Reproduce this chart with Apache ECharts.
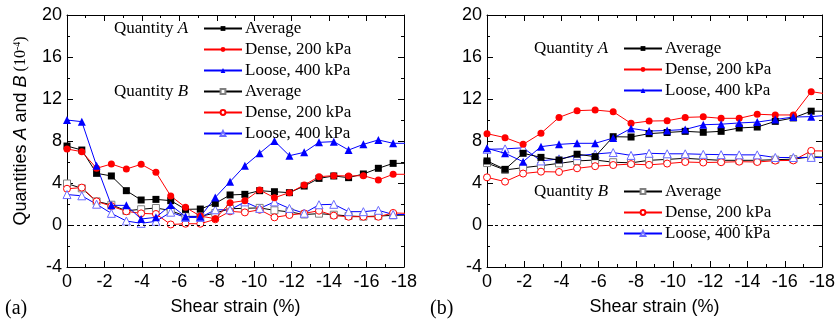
<!DOCTYPE html>
<html>
<head>
<meta charset="utf-8">
<script src="https://cdn.jsdelivr.net/npm/echarts@6/dist/echarts.min.js"></script>
<style>
  body { margin: 0; background: #fff; }
  #chart0 { position: absolute; left: 0; top: 0; width: 425px; height: 323px; }
  #chart1 { position: absolute; left: 425px; top: 0; width: 413px; height: 323px; }
</style>
</head>
<body>
<div id="chart0"></div>
<div id="chart1"></div>
<script>
// shear strain (%) of each reading; last one lies just past the axis end
var strainL = [0, -0.79, -1.58, -2.37, -3.17, -3.96, -4.75, -5.54, -6.33, -7.12, -7.92, -8.71, -9.5, -10.29, -11.08, -11.88, -12.67, -13.46, -14.25, -15.04, -15.83, -16.63, -17.42, -18.3];
var strainR = [0, -0.97, -1.94, -2.9, -3.87, -4.84, -5.81, -6.78, -7.74, -8.71, -9.68, -10.65, -11.62, -12.58, -13.55, -14.52, -15.49, -16.46, -17.42, -18.3];

// (a)
var avgA_L   = [7.52, 7.14, 4.92, 4.67, 3.27, 2.38, 2.44, 2.32, 1.49, 1.52, 2.06, 2.86, 2.92, 3.27, 3.17, 3.08, 3.71, 4.44, 4.67, 4.51, 4.86, 5.40, 5.87, 5.87];
var denseA_L = [7.24, 6.98, 5.40, 5.81, 5.33, 5.78, 5.02, 2.76, 1.68, 0.85, 0.60, 2.12, 2.32, 3.33, 2.60, 3.08, 3.81, 4.60, 4.70, 4.67, 4.70, 4.29, 4.83, 4.83];
var looseA_L = [10.0, 9.84, 5.65, 1.87, 1.87, 0.57, 0.73, 1.90, 0.79, 0.79, 2.63, 4.13, 5.65, 6.83, 8.0, 6.60, 6.92, 7.87, 7.94, 7.14, 7.68, 8.10, 7.78, 7.78];
var avgB_L   = [3.95, 3.49, 2.25, 1.93, 1.35, 1.50, 1.62, 1.38, 0.82, 0.82, 1.14, 1.55, 1.59, 1.63, 1.40, 1.25, 1.00, 1.08, 0.98, 0.86, 0.80, 0.85, 0.92, 0.95];
var denseB_L = [3.45, 3.56, 2.25, 1.80, 1.30, 1.11, 1.05, 0.05, 0.12, 0.12, 0.54, 1.30, 1.20, 1.45, 0.73, 0.95, 1.11, 1.36, 0.89, 0.79, 0.79, 0.79, 1.15, 1.10];
var looseB_L = [2.90, 2.78, 1.98, 1.11, 0.38, 0.16, 0.35, 1.22, 0.72, 0.72, 1.45, 1.45, 2.20, 1.58, 2.20, 1.58, 1.12, 1.93, 1.97, 1.27, 1.27, 1.40, 1.00, 1.00];

// (b)
var avgA_R   = [6.10, 5.30, 6.83, 6.44, 6.19, 6.74, 6.51, 8.41, 8.38, 8.70, 8.81, 8.92, 8.83, 8.92, 9.24, 9.33, 9.87, 10.2, 10.84, 10.84];
var denseA_R = [8.70, 8.32, 7.68, 8.73, 10.25, 10.89, 10.95, 10.79, 9.68, 9.90, 9.93, 10.25, 10.30, 10.16, 10.16, 10.55, 10.48, 10.48, 12.70, 12.47];
var looseA_R = [7.30, 6.83, 6.03, 7.46, 7.68, 7.78, 7.78, 8.28, 9.20, 8.95, 9.00, 9.10, 9.55, 9.60, 9.72, 9.80, 10.05, 10.28, 10.32, 10.45];
var avgB_R   = [5.90, 5.24, 5.46, 5.65, 5.87, 6.10, 6.19, 5.98, 5.92, 6.16, 6.25, 6.35, 6.25, 6.16, 6.16, 6.16, 6.22, 6.27, 6.50, 6.45];
var denseB_R = [4.54, 4.13, 4.90, 5.08, 5.05, 5.40, 5.60, 5.71, 5.80, 5.73, 5.85, 6.00, 5.95, 5.98, 6.03, 6.00, 6.13, 6.15, 7.06, 7.05];
var looseB_R = [7.21, 7.25, 7.35, 6.10, 6.30, 6.60, 6.76, 6.90, 6.63, 6.83, 6.78, 6.78, 6.73, 6.70, 6.68, 6.68, 6.43, 6.43, 6.44, 6.40];

var xTicks = [0, -2, -4, -6, -8, -10, -12, -14, -16, -18];
var yTicks = [-4, 0, 4, 8, 12, 16, 20];

var sans = 'Liberation Sans, Arial, sans-serif';
var serif = 'Liberation Serif, Times New Roman, serif';

function pairs(xs, ys) {
  return xs.map(function (x, i) { return [x, ys[i]]; });
}

// name is "A Average" etc; legend drops the prefix
function mkSeries(name, xs, ys, color, symbol, size, open, border) {
  return {
    name: name,
    type: 'line',
    data: pairs(xs, ys),
    symbol: symbol,
    symbolSize: size,
    clip: true,
    lineStyle: { color: color, width: 1 },
    itemStyle: open
      ? { color: '#fff', borderColor: border || color, borderWidth: 1 }
      : { color: color, borderWidth: 0 },
    z: open ? 2 : 3
  };
}

function zeroLine(s) {
  s.markLine = {
    silent: true, symbol: 'none', label: { show: false },
    lineStyle: { type: [3, 3], color: '#000', width: 1 },
    data: [{ yAxis: 0 }]
  };
  return s;
}

function axes(withName) {
  var tickStyle = { show: true, inside: true, length: 6, lineStyle: { color: '#000', width: 1 } };
  var minor = { show: true, splitNumber: 2, length: 3, lineStyle: { color: '#000', width: 1 } };
  var line = { show: true, onZero: false, lineStyle: { color: '#000', width: 1 } };
  var xa = {
    type: 'value', min: -18, max: 0, interval: 2, inverse: true,
    axisLine: line, axisTick: tickStyle, minorTick: minor, splitLine: { show: false },
    axisLabel: { color: '#000', fontSize: 18, fontFamily: sans, margin: 6,
      formatter: function (v) { return xTicks.indexOf(v) >= 0 ? String(v) : ''; } },
    name: 'Shear strain (%)', nameLocation: 'middle', nameGap: 31,
    nameTextStyle: { color: '#000', fontSize: 18, fontFamily: sans }
  };
  var xTop = {
    type: 'value', min: -18, max: 0, interval: 2, inverse: true, position: 'top',
    axisLine: line, axisTick: tickStyle, minorTick: minor, splitLine: { show: false },
    axisLabel: { show: false }
  };
  var ya = {
    type: 'value', min: -4, max: 20, interval: 4,
    axisLine: line, axisTick: tickStyle, minorTick: minor, splitLine: { show: false },
    axisLabel: { color: '#000', fontSize: 18, fontFamily: sans, margin: 5,
      formatter: function (v) { return yTicks.indexOf(v) >= 0 ? String(v) : ''; } }
  };
  if (withName) {
    ya.name = '{s|Quantities }{i|A}{s| and }{i|B}{t| (10}{p|-4}{t|)}';
    ya.nameLocation = 'middle';
    ya.nameRotate = 90;
    ya.nameGap = 37;
    ya.nameTextStyle = {
      color: '#000',
      padding: [0, 0, 0, 20],
      rich: {
        s: { fontSize: 18, fontFamily: sans, color: '#000' },
        i: { fontSize: 18, fontFamily: sans, fontStyle: 'italic', color: '#000' },
        t: { fontSize: 16, fontFamily: serif, color: '#000' },
        p: { fontSize: 10, fontFamily: serif, color: '#000', verticalAlign: 'top', padding: [0, 0, 8, 0] }
      }
    };
  }
  var yRight = {
    type: 'value', min: -4, max: 20, interval: 4, position: 'right',
    axisLine: line, axisTick: tickStyle, minorTick: minor, splitLine: { show: false },
    axisLabel: { show: false }
  };
  return { xAxis: [xa, xTop], yAxis: [ya, yRight] };
}

function legend(names, left, top) {
  return {
    data: names, orient: 'vertical', left: left, top: top, padding: 0,
    itemWidth: 38, itemHeight: 6, itemGap: 4,
    textStyle: { color: '#000', fontSize: 17, fontFamily: serif, lineHeight: 16, padding: [0, 0, 0, -2] },
    formatter: function (name) { return name.slice(2); }
  };
}

function label(letter, x, y) {
  return {
    type: 'text', x: x, y: y,
    style: {
      text: '{n|Quantity }{i|' + letter + '}',
      verticalAlign: 'middle', fill: '#000',
      fontSize: 17, fontFamily: serif,
      rich: {
        n: { fontSize: 17, fontFamily: serif, fill: '#000' },
        i: { fontSize: 17, fontFamily: serif, fontStyle: 'italic', fill: '#000' }
      }
    }
  };
}

function tag(text) {
  return { type: 'text', x: 5, y: 309,
    style: { text: text, fontSize: 20, fontFamily: serif, fill: '#000', verticalAlign: 'middle' } };
}

var axL = axes(true);
var axR = axes(false);

var option = [{
  animation: false,
  grid: { left: 67, right: 21, top: 15, bottom: 56 },
  xAxis: axL.xAxis,
  yAxis: axL.yAxis,
  legend: legend(['A Average', 'A Dense, 200 kPa', 'A Loose, 400 kPa',
                  'B Average', 'B Dense, 200 kPa', 'B Loose, 400 kPa'], 203, 20),
  graphic: [label('A', 114, 29), label('B', 114, 92), tag('(a)')],
  series: [
    zeroLine(mkSeries('B Average', strainL, avgB_L, '#000', 'rect', 7, true, '#808080')),
    mkSeries('B Dense, 200 kPa', strainL, denseB_L, '#ff0000', 'circle', 7, true),
    mkSeries('B Loose, 400 kPa', strainL, looseB_L, '#0000ff', 'triangle', 8, true, '#6a6aff'),
    mkSeries('A Average', strainL, avgA_L, '#000', 'rect', 7, false),
    mkSeries('A Dense, 200 kPa', strainL, denseA_L, '#ff0000', 'circle', 7, false),
    mkSeries('A Loose, 400 kPa', strainL, looseA_L, '#0000ff', 'triangle', 8, false)
  ]
}, {
  animation: false,
  grid: { left: 62, right: 14, top: 15, bottom: 56 },
  xAxis: axR.xAxis,
  yAxis: axR.yAxis,
  legend: [
    legend(['A Average', 'A Dense, 200 kPa', 'A Loose, 400 kPa'], 198, 40),
    legend(['B Average', 'B Dense, 200 kPa', 'B Loose, 400 kPa'], 198, 183)
  ],
  graphic: [label('A', 109, 49), label('B', 109, 192), tag('(b)')],
  series: [
    zeroLine(mkSeries('B Average', strainR, avgB_R, '#000', 'rect', 7, true, '#808080')),
    mkSeries('B Dense, 200 kPa', strainR, denseB_R, '#ff0000', 'circle', 7, true),
    mkSeries('B Loose, 400 kPa', strainR, looseB_R, '#0000ff', 'triangle', 8, true, '#6a6aff'),
    mkSeries('A Average', strainR, avgA_R, '#000', 'rect', 7, false),
    mkSeries('A Dense, 200 kPa', strainR, denseA_R, '#ff0000', 'circle', 7, false),
    mkSeries('A Loose, 400 kPa', strainR, looseA_R, '#0000ff', 'triangle', 8, false)
  ]
}];

for (var i = 0; i < 2; i++) {
  var dom = document.getElementById('chart' + i);
  var myChart = echarts.init(dom, null, { renderer: 'canvas' });
  myChart.setOption(option[i]);
}
</script>
</body>
</html>
